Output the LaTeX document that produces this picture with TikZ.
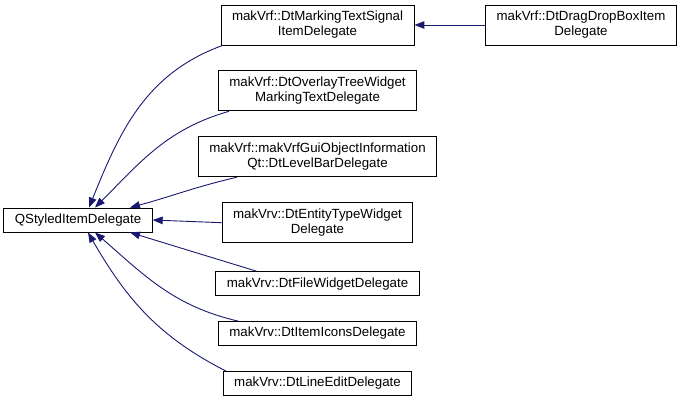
\documentclass[tikz,border=0pt]{standalone}
\usepackage{fontspec}
\setmainfont{Liberation Sans}
\usetikzlibrary{positioning, arrows.meta}
\definecolor{edgeblue}{RGB}{25,25,112}

\begin{document}
\begin{tikzpicture}[
    x=1pt, y=1pt,
    node distance=25pt,
    block/.style={rectangle, draw=black, line width=0.9pt, fill=white,
    font=\fontsize{13.3}{15}\selectfont, inner xsep=11pt,
    minimum height=24pt, align=center},
    tall/.style={minimum height=40pt},
    arrow/.style={-{Triangle[length=10pt,width=7.5pt]}, edgeblue, line width=0.9pt}
]
\useasboundingbox (0,0) rectangle (683,400);

% ---------------- BASE CLASS ----------------
\node[block] (base) at (78,180) {QStyledItemDelegate};

% ---------------- DERIVED CLASSES ----------------
\node[block, tall] (marking) at (317.5,375)
{makVrf::DtMarkingTextSignal\\ItemDelegate};

\node[block, tall, below=of marking] (overlay)
{makVrf::DtOverlayTreeWidget\\MarkingTextDelegate};

\node[block, tall, below=of overlay] (levelbar)
{makVrf::makVrfGuiObjectInformation\\Qt::DtLevelBarDelegate};

\node[block, tall, below=of levelbar] (entity)
{makVrv::DtEntityTypeWidget\\Delegate};

\node[block, below=28pt of entity] (file) {makVrv::DtFileWidgetDelegate};
\node[block, below=of file] (icons) {makVrv::DtItemIconsDelegate};
\node[block, below=of icons] (lineedit) {makVrv::DtLineEditDelegate};

\node[block, tall] (dragdrop) at (581,375)
{makVrf::DtDragDropBoxItem\\Delegate};

% ---------------- INHERITANCE ----------------
\draw[arrow] ([xshift=2pt]marking.south west) to[out=200, in=68] ([xshift=11pt]base.north);
\draw[arrow] ([xshift=11pt]overlay.south west) to[out=196, in=45] ([xshift=17pt]base.north);
\draw[arrow] ([xshift=39pt]levelbar.south west) to[out=193, in=15] ([xshift=52pt]base.north);
\draw[arrow] (entity.west) -- (base.east);
\draw[arrow] ([xshift=41pt]file.north west) -- ([xshift=52pt]base.south);
\draw[arrow] ([xshift=20pt]icons.north west) to[out=167, in=-41] ([xshift=17pt]base.south);
\draw[arrow] ([xshift=3pt]lineedit.north west) to[out=153, in=-60] ([xshift=10pt]base.south);

\draw[arrow] (dragdrop.west) -- (marking.east);

\end{tikzpicture}
\end{document}
